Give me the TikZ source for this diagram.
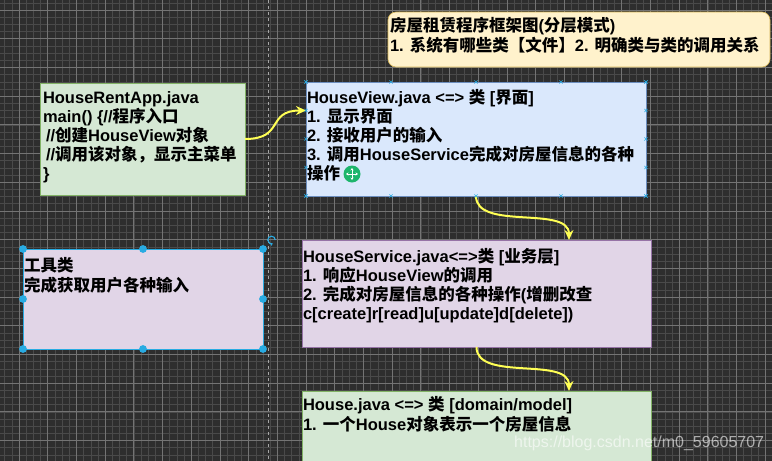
\documentclass[tikz,border=0pt]{standalone}
\usepackage{fontspec}
\setmainfont{Liberation Sans}
\newfontfamily\cjk{Noto Sans CJK SC}
\usetikzlibrary{arrows.meta,calc}
\definecolor{bgc}{HTML}{2E2E2E}
\definecolor{gminor}{HTML}{4A4A4A}
\definecolor{gmajor}{HTML}{747474}
\definecolor{gfill}{HTML}{D5E8D4}
\definecolor{gline}{HTML}{82B366}
\definecolor{bfill}{HTML}{DAE8FC}
\definecolor{bline}{HTML}{6C8EBF}
\definecolor{pfill}{HTML}{E1D5E7}
\definecolor{pline}{HTML}{9673A6}
\definecolor{yfill}{HTML}{FFF2CC}
\definecolor{yline}{HTML}{D6B656}
\definecolor{arrowy}{HTML}{FFFF55}
\definecolor{handle}{HTML}{29ABE2}
\definecolor{movegreen}{HTML}{1DB56C}
\newcommand\zh[1]{{\cjk\bfseries #1}}
\begin{document}
\begin{tikzpicture}[x=1pt,y=-1pt,
  box/.style={draw, line width=0.6pt, anchor=north west, inner sep=0pt, outer sep=0pt},
  txt/.style={anchor=base west, inner sep=0pt, outer sep=0pt, font=\fontsize{16.5}{19}\selectfont\bfseries, text=black},
  yarrow/.style={draw=arrowy, line width=2pt, -{Stealth[length=10pt,width=9pt]}},
  minorline/.style={draw=gminor, line width=0.5pt},
  majorline/.style={draw=gmajor, line width=0.7pt},
  xmark/.style={draw=handle, line width=0.6pt},
  pagebreak/.style={draw=gray!70!white, line width=0.8pt, dash pattern=on 3pt off 3pt}]
\useasboundingbox (0,0) rectangle (772,461);
\begin{scope}
\clip (0,0) rectangle (772,461);
\fill[bgc] (0,0) rectangle (772,461);
% grid
\foreach \i in {-3,...,105} \draw[minorline] ({19+\i*7.175},0) -- ({19+\i*7.175},461);
\foreach \i in {-2,...,63} \draw[minorline] (0,{10+\i*7.175}) -- (772,{10+\i*7.175});
\foreach \i in {-1,...,26} \draw[majorline] ({19+\i*28.7},0) -- ({19+\i*28.7},461);
\foreach \i in {0,...,16} \draw[majorline] (0,{10+\i*28.7}) -- (772,{10+\i*28.7});
\draw[pagebreak] (268,0) -- (268,461);

% boxes
\node[box, draw=yline, fill=yfill, rounded corners=8pt, minimum width=382pt, minimum height=55pt] (note) at (388,12) {};
\node[box, draw=gline, fill=gfill, minimum width=205pt, minimum height=112pt] (hra) at (40,83) {};
\node[box, draw=bline, fill=bfill, minimum width=340pt, minimum height=114pt] (hv) at (306,82) {};
\node[box, draw=handle, fill=pfill, minimum width=240pt, minimum height=100pt] (tools) at (23,249) {};
\node[box, draw=pline, fill=pfill, minimum width=349pt, minimum height=107pt] (hs) at (302,240) {};
\node[box, draw=gline, fill=gfill, minimum width=349pt, minimum height=90pt] (house) at (302,391) {};

% texts
\node[txt] (note1) at (390,31) {\zh{房屋租赁程序框架图}(\zh{分层模式})};
\node[txt] (note2) at (390,51) {1. \zh{系统有哪些类【文件】}2. \zh{明确类与类的调用关系}};

\node[txt] (hra1) at (43,103) {HouseRentApp.java};
\node[txt] (hra2) at (43,122) {main() \{//\zh{程序入口}};
\node[txt] (hra3) at (43,141) {\hspace*{3pt}//\zh{创建}HouseView\zh{对象}};
\node[txt] (hra4) at (43,160) {\hspace*{3pt}//\zh{调用该对象，显示主菜单}};
\node[txt] (hra5) at (43,179) {\}};

\node[txt] (hv1) at (307,103) {HouseView.java <=> \zh{类} [\zh{界面}]};
\node[txt] (hv2) at (307,122.2) {1. \zh{显示界面}};
\node[txt] (hv3) at (307,141.4) {2. \zh{接收用户的输入}};
\node[txt] (hv4) at (307,160.6) {3. \zh{调用}HouseService\zh{完成对房屋信息的各种}};
\node[txt] (hv5) at (307,179.8) {\zh{操作}};

\node[txt] (tl1) at (24,271) {\zh{工具类}};
\node[txt] (tl2) at (24,291) {\zh{完成获取用户各种输入}};

\node[txt] (hs1) at (303,262) {HouseService.java<=>\zh{类} [\zh{业务层}]};
\node[txt] (hs2) at (303,281) {1. \zh{响应}HouseView\zh{的调用}};
\node[txt] (hs3) at (303,300) {2. \zh{完成对房屋信息的各种操作}(\zh{增删改查}};
\node[txt] (hs4) at (303,319) {c[create]r[read]u[update]d[delete])};

\node[txt] (ho1) at (303,410.5) {House.java <=> \zh{类} [domain/model]};
\node[txt] (ho2) at (303,430) {1. \zh{一个}House\zh{对象表示一个房屋信息}};

% connectors
\draw[yarrow] (hra.east) .. controls +(40,0) and +(-40,0) .. ($(hv.north west)!0.25!(hv.south west)$);
\draw[yarrow] (hv.south) .. controls +(0,35) and +(0,-35) .. ($(hs.north west)!0.765!(hs.north east)$);
\draw[yarrow] (hs.south) .. controls +(0,35) and +(0,-35) .. ($(house.north west)!0.765!(house.north east)$);

% connection markers on HouseView
\foreach \f in {0,0.25,0.5,0.75,1} {
  \foreach \a/\b in {north west/north east, south west/south east, north west/south west, north east/south east} {
    \coordinate (m) at ($(hv.\a)!\f!(hv.\b)$);
    \draw[xmark] ($(m)+(-1.6,-1.6)$) -- ($(m)+(1.6,1.6)$) ($(m)+(-1.6,1.6)$) -- ($(m)+(1.6,-1.6)$);
  }
}

% move icon
\node[circle, fill=movegreen, minimum size=17pt, inner sep=0pt] (move) at (352,174) {};
\draw[white, line width=0.9pt, {Stealth[length=2.5pt,width=3.2pt]}-{Stealth[length=2.5pt,width=3.2pt]}] ($(move.center)+(-6,0)$) -- ($(move.center)+(6,0)$);
\draw[white, line width=0.9pt, {Stealth[length=2.5pt,width=3.2pt]}-{Stealth[length=2.5pt,width=3.2pt]}] ($(move.center)+(0,-6)$) -- ($(move.center)+(0,6)$);

% selection handles
\foreach \p in {north west, north, north east, west, east, south west, south, south east}
  \fill[handle] (tools.\p) circle (3.9pt);
\coordinate (rot) at (271.5,240);
\draw[handle, line width=1.1pt, -{Stealth[length=2.5pt,width=3.5pt]}] ($(rot)+(3.8,0)$) arc[start angle=0, end angle=290, radius=3.8pt];

% watermark
\node[anchor=base west, inner sep=0pt, font=\fontsize{16}{19}\selectfont, text=white, text opacity=0.6] (wm) at (514,447) {https://blog.csdn.net/m0\_59605707};
\end{scope}
\end{tikzpicture}
\end{document}
